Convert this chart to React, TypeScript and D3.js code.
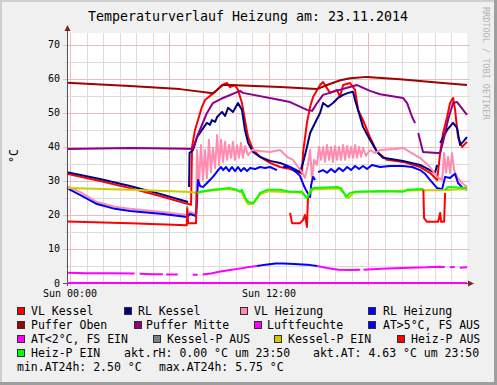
import React, { useEffect, useRef } from 'react';
import * as d3 from 'd3';

type Pt = [number, number | null];

// hours of the day, values in °C (null = gap)
const vlKessel: Pt[] = [
  [-0.18, 32.1], [1.81, 30.0], [3.62, 27.9], [5.43, 25.6], [7.12, 23.2], [7.3, 23.0],
  [7.36, 40.0], [7.54, 45.0], [7.72, 47.9], [7.96, 51.8], [8.14, 53.8], [8.44, 55.0],
  [8.75, 56.2], [9.17, 58.2], [9.47, 58.8], [9.65, 57.6], [9.95, 58.2], [10.13, 56.8],
  [10.37, 52.9], [10.55, 47.9], [10.74, 42.9], [11.04, 39.1], [11.46, 37.1], [12.06, 35.3],
  [12.67, 34.1], [13.27, 33.5], [13.87, 32.4], [13.99, 32.1], [14.05, 38.2], [14.29, 47.1],
  [14.48, 51.8], [14.66, 54.7], [15.08, 58.2], [15.26, 59.1], [15.68, 55.9], [16.1, 56.8],
  [16.28, 54.7], [16.47, 58.2], [16.89, 58.8], [17.19, 56.8], [17.37, 50.9], [17.67, 47.9],
  [18.09, 42.9], [18.52, 38.5], [19.12, 36.2], [20.08, 35.6], [21.11, 34.1], [21.71, 32.4],
  [22.14, 30.3], [22.32, 38.2], [22.5, 44.1], [22.74, 48.8], [22.92, 52.9], [23.1, 54.4],
  [23.22, 50.9], [23.4, 42.9], [23.64, 40.0], [23.94, 41.5],
];

const rlKessel: Pt[] = [
  [-0.18, 32.6], [1.81, 30.6], [3.62, 28.5], [5.43, 26.2], [7.12, 23.8], [7.15, null],
  [7.18, 28.2], [7.21, 38.2], [7.42, 39.1], [7.66, 42.9], [7.96, 45.0], [8.26, 47.1],
  [8.44, 46.5], [8.56, 47.9], [8.75, 47.4], [8.87, 48.8], [9.17, 50.3], [9.35, 49.1],
  [9.53, 51.5], [9.83, 50.3], [10.13, 52.9], [10.37, 50.9], [10.55, 45.0], [10.74, 41.2],
  [11.04, 38.5], [11.46, 37.1], [12.06, 35.9], [12.67, 35.3], [13.27, 34.1], [13.87, 32.6],
  [14.05, 35.3], [14.29, 40.0], [14.48, 44.1], [14.78, 47.1], [15.08, 50.0], [15.26, 52.9],
  [15.56, 51.8], [15.86, 52.9], [16.16, 54.4], [16.47, 55.3], [16.77, 55.9], [17.07, 56.2],
  [17.19, 53.8], [17.37, 50.9], [17.67, 45.9], [18.09, 42.1], [18.52, 38.5], [18.88, 36.8],
  [20.08, 35.9], [21.11, 34.7], [21.71, 33.2], [22.01, 32.4], [22.14, 34.7], [22.2, null],
  [22.32, 41.2], [22.74, 45.0], [23.1, 47.1], [23.34, 45.6], [23.52, 40.6], [23.7, 41.5],
  [23.94, 42.9],
];

const vlHeizung: Pt[] = [
  [-0.18, 28.5], [0.6, 26.8], [1.63, 23.8], [2.71, 22.4], [3.62, 21.8], [5.61, 20.9],
  [7.06, 20.0], [7.24, 20.9], [7.6, 20.3], [7.66, 39.1], [7.78, 28.8], [7.9, 40.6],
  [8.02, 30.3], [8.14, 39.1], [8.26, 30.9], [8.38, 42.1], [8.5, 32.6], [8.62, 39.7],
  [8.75, 33.8], [8.87, 43.5], [8.99, 34.7], [9.11, 42.1], [9.23, 35.6], [9.35, 41.5],
  [9.47, 36.2], [9.59, 40.6], [9.71, 36.8], [9.83, 41.5], [9.95, 36.2], [10.07, 40.6],
  [10.19, 36.8], [10.31, 41.2], [10.43, 36.8], [10.55, 40.3], [10.74, 37.6], [10.98, 39.1],
  [11.46, 38.8], [12.06, 38.5], [12.67, 39.1], [13.09, 37.1], [13.45, 36.2], [13.75, 34.1],
  [13.99, 32.6], [14.17, 30.9], [14.35, 34.7], [14.48, 39.1], [14.6, 30.3], [14.72, 36.2],
  [14.9, 34.7], [15.02, 40.0], [15.14, 36.2], [15.26, 40.0], [15.38, 35.6], [15.5, 40.6],
  [15.62, 36.2], [15.74, 40.0], [15.86, 35.6], [15.98, 40.3], [16.1, 36.2], [16.22, 40.0],
  [16.34, 36.2], [16.47, 40.6], [16.59, 36.2], [16.71, 40.3], [16.83, 36.8], [16.95, 40.0],
  [17.07, 36.8], [17.19, 40.6], [17.31, 36.8], [17.43, 40.0], [17.55, 37.1], [17.67, 39.7],
  [17.85, 37.4], [18.09, 39.1], [18.4, 38.2], [18.7, 39.1], [19.6, 39.4], [20.08, 39.7],
  [20.51, 38.5], [21.11, 36.8], [21.71, 34.1], [22.14, 31.2], [22.44, 30.3], [22.56, 38.2],
  [22.68, 32.4], [22.8, 37.1], [22.92, 32.4], [23.04, 38.2], [23.16, 33.2], [23.34, 31.2],
  [23.64, 29.4], [23.94, 28.2],
];

const rlHeizung: Pt[] = [
  [-0.18, 27.9], [0.6, 25.9], [1.63, 23.2], [2.71, 21.8], [3.62, 21.2], [5.61, 20.3],
  [7.06, 19.4], [7.24, 20.3], [7.6, 19.7], [7.66, 24.4], [7.72, 30.3], [7.84, 28.5],
  [8.02, 28.2], [8.26, 29.4], [8.44, 30.3], [8.62, 31.2], [8.81, 32.4], [8.93, 33.2],
  [9.11, 34.1], [9.23, 33.2], [9.41, 34.1], [9.59, 32.9], [9.77, 34.1], [9.95, 32.9],
  [10.13, 34.1], [10.31, 32.9], [10.49, 33.8], [10.68, 32.9], [10.86, 33.8], [11.16, 33.5],
  [11.46, 34.1], [11.76, 33.8], [12.06, 34.1], [12.48, 33.2], [12.6, null], [12.85, 34.1],
  [13.27, 34.1], [13.63, 32.6], [13.87, 31.5], [14.11, 28.5], [14.29, 26.8], [14.48, 25.3],
  [14.54, 28.8], [14.66, 31.2], [14.78, 30.3], [14.86, null], [14.96, 32.6], [15.26, 33.2],
  [15.5, 32.4], [15.74, 33.5], [15.98, 32.6], [16.22, 33.8], [16.47, 32.9], [16.71, 34.1],
  [16.95, 33.2], [17.19, 34.4], [17.43, 33.5], [17.67, 34.4], [17.91, 33.5], [18.21, 34.7],
  [18.7, 34.1], [19.3, 34.4], [20.08, 34.4], [20.63, 34.1], [21.11, 33.2], [21.41, 32.1],
  [21.71, 30.3], [22.14, 27.9], [22.44, 27.6], [22.62, 31.2], [22.92, 30.9], [23.22, 32.1],
  [23.4, 29.4], [23.7, 27.9], [23.94, 27.4],
];

const pufferOben: Pt[] = [
  [-0.18, 58.9], [3.62, 57.9], [6.63, 57.0], [8.62, 55.8], [9.23, 58.2], [9.65, 58.2],
  [12.67, 57.6], [14.9, 57.0], [15.5, 58.2], [16.3, 59.6], [16.9, 60.2], [17.9, 60.6],
  [19.9, 59.9], [22.3, 58.9], [23.94, 58.2],
];

const pufferMitte: Pt[] = [
  [-0.18, 39.4], [3.62, 39.7], [7.0, 39.5], [7.42, 39.4], [7.66, 43.0], [8.26, 50.0],
  [8.62, 52.9], [9.23, 54.4], [10.25, 56.5], [10.43, 55.9], [12.67, 53.8], [13.27, 53.2],
  [14.29, 50.9], [14.6, 50.6], [14.9, 52.9], [15.26, 55.3], [15.86, 56.2], [16.71, 57.4],
  [17.31, 58.2], [18.09, 56.5], [18.7, 55.5], [20.08, 54.4], [20.33, 52.9], [20.63, 48.8],
  [20.81, 47.0], [20.9, null], [21.0, 44.1], [21.29, 38.5], [22.14, 38.2], [22.32, 38.2],
  [22.5, 41.5], [22.8, 48.0], [23.1, 52.9], [23.34, 53.2], [23.94, 49.4],
];

const luftfeuchte: Pt[] = [[-0.18, 0], [23.94, 0]];

const atWarm: Pt[] = [
  [11.28, 5.0], [11.8, 5.4], [12.4, 5.7], [12.85, 5.75], [13.5, 5.6], [14.3, 5.4], [14.9, 5.0],
];

const atCold: Pt[] = [
  [-0.18, 3.0], [1.0, 2.9], [2.5, 2.85], [3.9, 2.8], [4.0, null], [4.2, 2.7], [5.0, 2.6],
  [5.6, 2.55], [5.7, null], [5.8, 2.5], [6.5, 2.5], [6.9, null], [7.4, 2.4], [7.7, 2.45],
  [7.85, null], [8.0, 2.5], [8.5, 2.8], [9.0, 3.3], [9.65, 3.8], [10.3, 4.3], [10.8, 4.7],
  [11.28, 5.0], [11.5, null], [14.9, 5.0], [15.5, 4.4], [16.2, 3.9], [17.0, 3.8], [17.5, 3.9],
  [17.6, null], [17.7, 3.9], [18.5, 4.1], [19.5, 4.3], [20.5, 4.5], [21.5, 4.6], [22.3, 4.8],
  [22.6, 4.7], [22.75, null], [22.9, 4.6], [23.2, 4.7], [23.35, null], [23.5, 4.5], [23.94, 4.6],
];

const kesselPEin: Pt[] = [
  [-0.18, 27.9], [3.62, 27.4], [7.0, 26.8], [7.66, 26.5], [8.5, 27.2], [9.5, 27.6],
  [10.3, 27.0], [10.5, 25.0], [10.74, 23.2], [11.04, 23.2], [11.3, 25.0], [11.5, 26.2],
  [12.0, 27.0], [14.0, 26.5], [14.3, 24.8], [14.5, 27.5], [16.2, 27.8], [16.5, 26.5],
  [16.8, 25.0], [17.1, 26.5], [17.5, 26.8], [21.1, 27.3], [22.4, 27.3], [23.94, 27.6],
];

const heizPAus: Pt[] = [
  [-0.18, 18.1], [3.62, 17.6], [7.04, 17.0], [7.07, 22.3], [7.12, 17.6], [7.6, 17.6],
  [7.64, 27.0], [7.7, null],
  [13.27, 20.6], [13.39, 17.6], [13.87, 17.6], [14.05, 18.5], [14.17, 20.0], [14.29, 16.5],
  [14.35, 25.3], [14.4, null],
  [21.31, 27.4], [21.35, 19.1], [21.53, 18.0], [22.2, 18.0], [22.32, 20.6], [22.38, 18.0],
  [22.56, 18.0], [22.62, 26.5],
];

const heizPEin: Pt[] = [
  [7.04, 22.3], [7.12, 22.3], [7.3, null],
  [7.66, 26.5], [7.84, 26.8], [8.62, 27.4], [9.65, 27.9], [10.07, 27.4], [10.25, 26.8],
  [10.37, 27.4], [10.55, 25.3], [10.74, 23.8], [11.04, 23.5], [11.28, 25.0], [11.46, 26.5],
  [11.88, 27.4], [12.67, 27.4], [13.27, 26.8], [13.99, 26.8], [14.29, 25.0], [14.48, 26.5],
  [14.66, 27.9], [16.1, 28.2], [16.34, 27.9], [16.47, 26.8], [16.65, 25.3], [16.89, 26.5],
  [17.2, 26.8], [18.7, 27.0], [20.08, 26.8], [20.33, 27.4], [21.31, 27.6], [21.4, null],
  [22.62, 27.4], [22.8, 28.2], [23.94, 27.9],
];

const seriesNames = [
  'VL Kessel', 'RL Kessel', 'VL Heizung', 'RL Heizung', 'Puffer Oben', 'Puffer Mitte',
  'Luftfeuchte', 'AT>5°C, FS AUS', 'AT<2°C, FS EIN', 'Kessel-P AUS', 'Kessel-P EIN',
  'Heiz-P AUS', 'Heiz-P EIN',
];
const seriesColors = [
  '#ff0000', '#000080', '#ff8cb0', '#0000ff', '#a00000', '#8c008c', '#ff00ff',
  '#0000ff', '#ff00ff', '#808080', '#cccc00', '#ff0000', '#00ff00',
];
const seriesData: (Pt[] | null)[] = [
  vlKessel, rlKessel, vlHeizung, rlHeizung, pufferOben, pufferMitte, luftfeuchte,
  atWarm, atCold, null, kesselPEin, heizPAus, heizPEin,
];

const xLabels = ['Sun 00:00', 'Sun 12:00'];
const xLabelHours = [0, 12];
const infoLines = [
  'akt.rH: 0.00 °C um 23:50',
  'akt.AT: 4.63 °C um 23:50',
  'min.AT24h: 2.50 °C',
  'max.AT24h: 5.75 °C',
];

const W = 497;
const H = 385;
const mono = '"DejaVu Sans Mono", "Liberation Mono", monospace';

const App = () => {
  const ref = useRef<SVGSVGElement>(null);

  useEffect(() => {
    const svg = d3.select(ref.current);
    svg.selectAll('*').remove();

    // background + 3d frame
    svg.append('rect').attr('width', W).attr('height', H).attr('fill', '#f0f0f0');
    svg.append('rect').attr('x', 0).attr('y', 0).attr('width', W).attr('height', 2).attr('fill', '#cfcfcf');
    svg.append('rect').attr('x', 0).attr('y', 0).attr('width', 2).attr('height', H).attr('fill', '#cfcfcf');
    svg.append('rect').attr('x', W - 3).attr('y', 0).attr('width', 3).attr('height', H).attr('fill', '#9e9e9e');
    svg.append('rect').attr('x', 0).attr('y', H - 3).attr('width', W).attr('height', 3).attr('fill', '#9e9e9e');

    const x = d3.scaleLinear().domain([-0.18, 23.94]).range([67, 467]);
    const y = d3.scaleLinear().domain([0, 73.5]).range([283, 33]);

    svg.append('rect').attr('x', 67).attr('y', 33).attr('width', 400).attr('height', 250).attr('fill', '#ffffff');

    const px = (v: number) => Math.round(v) + 0.5;

    // grid
    const g = svg.append('g').attr('shape-rendering', 'crispEdges');
    d3.range(0, 24).forEach(h => {
      const major = h % 6 === 0;
      g.append('line')
        .attr('x1', px(x(h))).attr('x2', px(x(h)))
        .attr('y1', 33).attr('y2', 286)
        .attr('stroke', major ? '#ecbcbc' : '#dcdcdc').attr('stroke-width', 1);
    });
    d3.range(5, 75, 5).forEach(v => {
      const major = v % 10 === 0;
      g.append('line')
        .attr('x1', major ? 63 : 65).attr('x2', 470)
        .attr('y1', px(y(v))).attr('y2', px(y(v)))
        .attr('stroke', major ? '#ecbcbc' : '#dcdcdc').attr('stroke-width', 1);
    });

    // series
    const line = d3.line<Pt>()
      .defined(d => d[1] !== null)
      .x(d => x(d[0]))
      .y(d => y(d[1] as number));
    seriesData.forEach((data, i) => {
      if (!data) return;
      svg.append('path')
        .datum(data)
        .attr('d', line)
        .attr('fill', 'none')
        .attr('stroke', seriesColors[i])
        .attr('stroke-width', 2)
        .attr('stroke-linejoin', 'round');
    });

    // axes
    const axis = svg.append('g').attr('shape-rendering', 'crispEdges');
    axis.append('line').attr('x1', 67.5).attr('x2', 67.5).attr('y1', 286).attr('y2', 30).attr('stroke', '#505050');
    axis.append('line').attr('x1', 63).attr('x2', 469).attr('y1', 283.5).attr('y2', 283.5).attr('stroke', '#505050');
    svg.append('path').attr('d', 'M64.5,31 L67.5,25 L70.5,31 Z').attr('fill', '#802020');
    svg.append('path').attr('d', 'M468,280.5 L474,283.5 L468,286.5 Z').attr('fill', '#802020');
    // redraw humidity at zero over axis
    svg.append('path').datum(luftfeuchte).attr('d', line).attr('fill', 'none')
      .attr('stroke', '#ff00ff').attr('stroke-width', 2);

    // y labels
    d3.range(0, 80, 10).forEach(v => {
      svg.append('text')
        .attr('x', 60).attr('y', y(v) + 3.5)
        .attr('text-anchor', 'end')
        .style('font-family', mono).style('font-size', '10px')
        .text(String(v));
    });
    xLabels.forEach((t, i) => {
      svg.append('text')
        .attr('x', x(xLabelHours[i])).attr('y', 297)
        .attr('text-anchor', 'middle')
        .style('font-family', mono).style('font-size', '10px')
        .text(t);
    });

    svg.append('text')
      .attr('transform', 'translate(18,156) rotate(-90)')
      .attr('text-anchor', 'middle')
      .style('font-family', mono).style('font-size', '11.5px')
      .text('°C');

    svg.append('text')
      .attr('x', 248).attr('y', 21)
      .attr('text-anchor', 'middle')
      .style('font-family', mono).style('font-size', '13.3px')
      .text('Temperaturverlauf Heizung am: 23.11.2014');

    svg.append('text')
      .attr('transform', 'translate(483,7) rotate(90)')
      .style('font-family', mono).style('font-size', '8.5px')
      .attr('fill', '#b4b4b4')
      .text('RRDTOOL / TOBI OETIKER');

    // legend
    const legPos: [number, number, number][] = [
      [17, 31, 315], [124, 138, 315], [240, 254, 315], [368, 383, 315],
      [17, 31, 329], [134, 146, 329], [254, 267, 329], [368, 383, 329],
      [17, 31, 343], [153, 167, 343], [274, 288, 343], [397, 411, 343],
      [17, 31, 357],
    ];
    const leg = svg.append('g').style('font-family', mono).style('font-size', '11.5px');
    seriesNames.forEach((name, i) => {
      const [bx, tx, by] = legPos[i];
      leg.append('rect')
        .attr('x', bx + 0.5).attr('y', by - 7.5).attr('width', 7).attr('height', 7)
        .attr('fill', seriesColors[i]).attr('stroke', '#303030').attr('stroke-width', 1);
      leg.append('text').attr('x', tx).attr('y', by).text(name);
    });
    const infoPos: [number, number][] = [[124, 357], [313, 357], [17, 371], [159, 371]];
    infoLines.forEach((t, i) => {
      leg.append('text').attr('x', infoPos[i][0]).attr('y', infoPos[i][1]).text(t);
    });
  }, []);

  return (
    <svg
      ref={ref}
      width={W}
      height={H}
      style={{ position: 'absolute', left: 0, top: 0, display: 'block' }}
    />
  );
};

export default App;
